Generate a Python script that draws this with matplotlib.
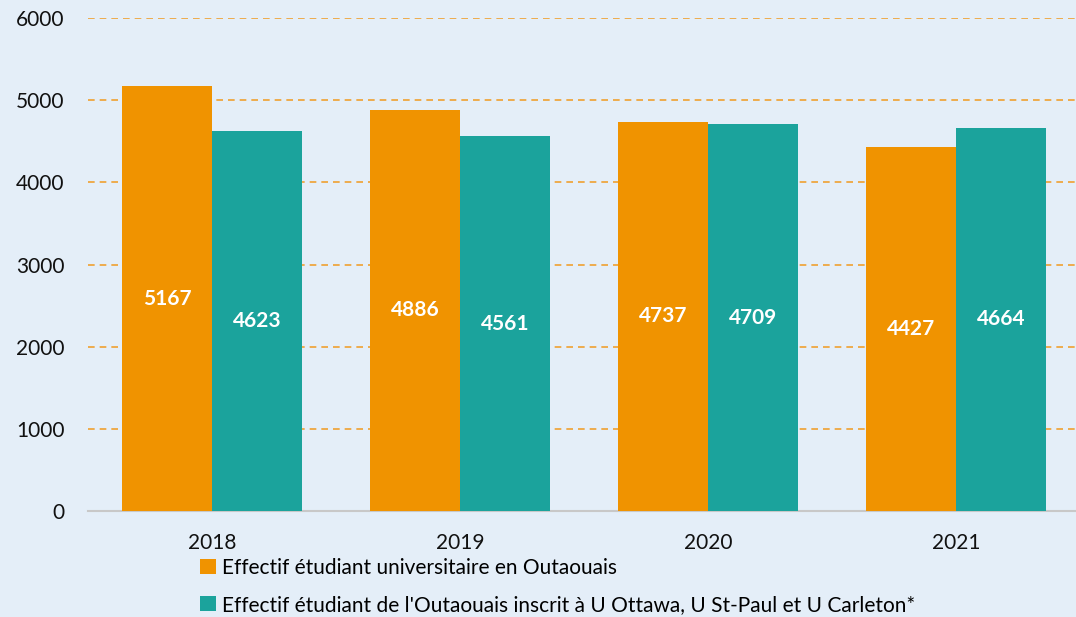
import numpy as np
import matplotlib
matplotlib.use("Agg")
import matplotlib.pyplot as plt

years = ["2018", "2019", "2020", "2021"]
outaouais = [5167, 4886, 4737, 4427]
ontario = [4623, 4561, 4709, 4664]
labels = ["Effectif étudiant universitaire en Outaouais",
          "Effectif étudiant de l'Outaouais inscrit à U Ottawa, U St-Paul et U Carleton*"]

bg = "#E4EEF8"
orange = "#F09300"
teal = "#1BA39C"

plt.rcParams["font.family"] = ["Lato", "DejaVu Sans"]

fig = plt.figure(figsize=(10.76, 6.17), dpi=100, facecolor=bg)
ax = fig.add_axes([0.0818, 0.1718, 0.922, 0.799])
ax.set_facecolor(bg)

x = np.arange(len(years))
w = 0.363
b1 = ax.bar(x - w / 2, outaouais, w, color=orange, label=labels[0], zorder=3)
b2 = ax.bar(x + w / 2, ontario, w, color=teal, label=labels[1], zorder=3)

for bars, vals in ((b1, outaouais), (b2, ontario)):
    for r, v in zip(bars, vals):
        ax.text(r.get_x() + r.get_width() / 2, v / 2, str(v), ha="center", va="center",
                color="white", fontsize=15, fontweight="bold", zorder=4)

ax.set_ylim(0, 6000)
ax.set_xlim(-0.5, 3.5)
ax.set_yticks(range(0, 6001, 1000))
ax.set_xticks(x)
ax.set_xticklabels(years)
ax.yaxis.grid(True, color="#F0A030", linestyle=(0, (4, 3)), linewidth=1.2, zorder=0)
ax.tick_params(axis="both", length=0, labelsize=15, colors="#111111")
ax.tick_params(axis="x", pad=16)
ax.tick_params(axis="y", pad=17)
for s in ("top", "right", "left"):
    ax.spines[s].set_visible(False)
ax.spines["bottom"].set_color("#C8C8C8")
ax.spines["bottom"].set_linewidth(1.5)

fig.legend(loc="upper left", bbox_to_anchor=(0.186, 0.096), frameon=False, ncol=1,
           fontsize=15, handlelength=0.75, handleheight=0.75, handletextpad=0.3,
           labelspacing=0.82, borderaxespad=0, borderpad=0)

plt.savefig("out.png", dpi=100, facecolor=bg)
